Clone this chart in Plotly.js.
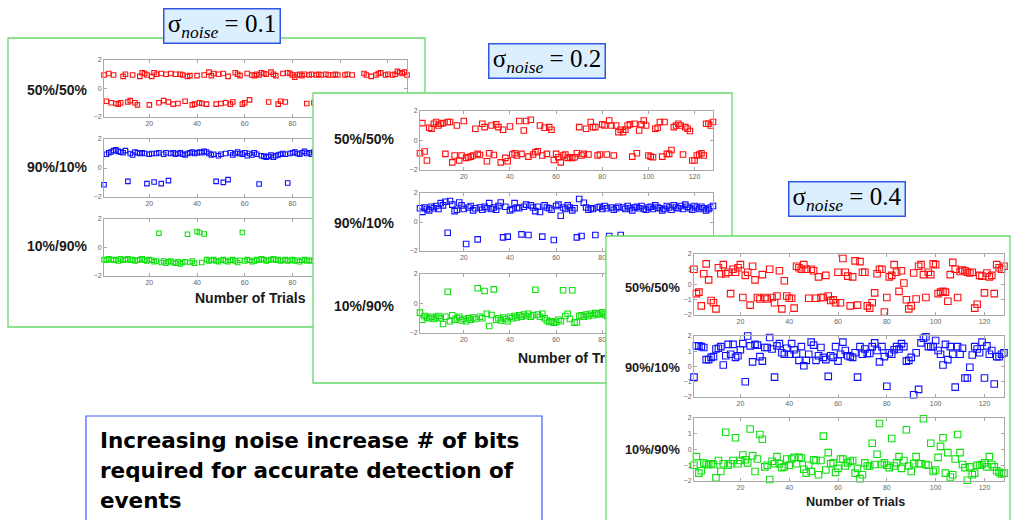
<!DOCTYPE html>
<html><head><meta charset="utf-8">
<script src="https://cdn.plot.ly/plotly-3.0.1.min.js"></script>
<style>
html,body{margin:0;padding:0;background:#fff;width:1011px;height:520px;overflow:hidden;}
.pnl{position:absolute;left:0;top:0;width:1011px;height:520px;}
</style></head><body>
<div id="p1" class="pnl" style="z-index:1"></div>
<div id="p2" class="pnl" style="z-index:2"></div>
<div id="p3" class="pnl" style="z-index:3"></div>
<script>
// ---------- data ----------
const trials = Array.from({length:128},(_,i)=>i+1);
const xTicks = [20,40,60,80,100,120];
const rowLabels = ['50%/50%','90%/10%','10%/90%'];
const sigmaValues = ['0.1','0.2','0.4'];
const xTitle = 'Number of Trials';
const noteLines = ['Increasing noise increase # of bits','required for accurate detection of','events'];

const p1_50_50 = [0.95,-0.9,1.05,-1.0,0.95,-1.05,-1.1,-1.0,0.85,1.0,
-0.95,-0.85,0.95,-1.0,-1.15,0.85,1.1,1.05,0.95,-1.15,
0.85,1.1,1.0,-1.0,1.05,-0.85,1.0,-0.95,1.05,-1.1,
1.0,-1.05,1.0,0.95,-0.9,0.85,0.9,-1.15,-1.1,0.9,
-1.0,-1.05,0.95,-1.1,1.15,0.9,1.05,-1.1,1.0,-1.05,
1.05,-1.0,0.85,-1.1,-0.95,1.1,1.0,0.9,-1.1,-1.0,
1.05,-0.8,0.95,0.9,1.0,0.95,1.1,1.05,1.0,-0.95,
1.15,1.0,0.9,-1.1,-0.9,1.05,-0.95,1.1,1.05,0.95,
0.8,0.95,1.0,0.9,1.0,-1.05,0.95,1.0,-1.0,0.95,
1.0,0.95,-1.05,1.0,0.95,-0.9,0.95,1.0,0.95,-1.1,
-0.95,0.95,1.0,-1.05,0.95,-1.0,-0.9,-1.1,-1.0,1.05,
0.95,-1.05,0.85,-0.95,0.95,1.05,1.1,-1.0,0.95,1.0,
-1.1,0.95,1.0,1.2,1.1,1.05,1.15,0.95];
const p1_90_10 = [-1.15,0.95,1.05,1.1,1.2,1.25,1.15,1.1,1.05,1.2,
-0.92,1.0,0.9,1.1,1.05,1.0,1.05,1.0,-1.08,0.95,
1.0,-0.97,1.0,1.05,-1.08,0.95,1.05,-0.87,1.0,1.05,
0.95,1.0,1.05,0.95,0.9,1.0,1.05,1.1,1.0,1.05,
1.1,1.05,1.15,1.1,1.0,0.9,0.95,-0.92,0.85,0.95,
-0.99,1.0,-0.8,1.05,0.9,1.0,1.1,1.0,0.95,1.05,
0.85,1.0,0.9,1.05,0.95,-1.1,0.85,0.8,0.75,0.8,
0.9,0.75,0.85,0.9,0.95,1.0,0.95,-1.03,1.0,1.05,
1.1,1.0,0.95,1.05,1.15,1.0,1.05,0.95,1.1,1.0,
0.95,1.05,1.0,0.9,1.0,1.05,0.95,1.0,1.1,0.95,
-1.0,1.0,1.05,0.9,1.0,1.1,0.95,1.0,1.05,0.9,
1.0,0.95,1.05,1.0,0.95,1.1,1.0,-0.95,1.0,1.05,
0.9,1.0,0.95,1.05,1.0,0.95,1.05,1.0];
const p1_10_90 = [-0.85,-0.9,-0.8,-0.85,-0.9,-0.85,-0.95,-0.8,-0.9,-0.85,
-0.8,-0.9,-0.85,-0.95,-0.9,-0.85,-0.8,-0.9,-0.95,-0.85,
-0.9,-1.0,-0.95,1.0,-1.05,-0.95,-1.1,-1.0,-0.95,-1.05,
-1.1,-1.0,-1.15,-1.05,-1.0,0.93,-1.05,-0.95,-1.1,1.12,
1.05,-1.05,0.95,-0.85,-0.95,-0.9,-0.85,-0.95,-1.0,-0.9,
-0.85,-0.95,-1.0,-0.9,-0.85,-0.95,-1.05,-0.9,1.05,-0.95,
-0.85,-0.9,-1.0,-0.95,-0.85,-0.9,-0.8,-0.85,-0.95,-0.9,
-0.85,-0.8,-0.9,-0.85,-0.95,-0.9,-0.85,-0.95,-0.9,-0.85,
-0.95,-0.9,-1.0,-0.9,-0.85,-0.95,-0.9,-0.95,-0.9,-0.85,
-0.9,-0.95,-0.9,-0.85,1.0,-0.9,-0.95,-0.85,-0.9,-0.95,
-0.9,-0.85,-0.9,0.95,-0.95,-0.9,-0.85,-0.9,-0.95,-0.9,
-0.85,-0.9,-0.95,-0.9,-0.85,-0.9,1.05,-0.95,-0.9,-0.85,
-0.9,-0.95,-0.9,-0.85,-0.9,-0.95,-0.9,-0.85];

const p2_50_50 = [-0.86,1.18,-0.75,-1.36,0.86,0.8,1.14,1.25,1.02,1.14,
1.18,-0.91,1.25,1.25,-1.48,-1.02,1.02,-1.36,-1.02,1.32,
-1.18,-1.14,-1.09,-1.02,0.8,-0.91,-0.98,1.14,0.91,-1.41,
-0.86,1.02,-0.98,1.09,0.91,-1.48,0.73,-1.18,-1.41,0.95,
-0.95,-0.86,-1.02,1.32,-0.91,0.68,1.32,-1.09,1.41,-0.95,
-0.8,-0.73,1.02,-1.02,0.86,-0.91,0.91,0.73,-1.32,-0.91,
-1.14,-1.48,-1.02,-0.95,-1.18,-1.14,-1.18,-1.14,-0.86,0.91,
-1.02,-0.91,0.8,-0.95,1.25,0.91,0.91,-1.02,-0.95,1.09,
1.02,-0.95,1.36,1.02,-1.02,1.02,0.57,0.73,0.57,0.73,
1.02,1.09,-1.09,1.14,-0.86,0.68,1.09,1.36,1.02,-1.02,
-1.09,-1.14,0.8,0.86,1.25,-1.09,1.25,-0.91,-0.91,-0.64,
0.91,1.02,1.14,1.02,-0.95,0.91,0.8,0.64,-1.36,-1.36,
-1.02,-0.95,-0.86,-1.02,1.14,1.14,1.02,1.25];
const p2_90_10 = [0.95,0.7,1.0,0.9,0.8,1.05,0.95,1.1,0.9,1.3,
1.15,1.4,-0.74,1.45,1.2,0.75,0.85,1.35,1.15,0.9,
-1.52,1.0,1.1,0.8,0.95,-1.2,1.0,0.85,1.05,0.95,
1.3,0.9,1.0,0.85,1.1,1.35,-1.06,1.05,-1.01,0.8,
0.9,1.3,1.0,0.95,-0.85,1.05,1.2,-0.9,1.15,1.0,
0.75,1.05,0.69,-1.01,1.15,1.0,0.95,0.85,-1.24,1.1,
1.2,0.43,1.0,0.9,1.15,1.0,0.8,0.95,-1.06,1.59,
-0.97,1.33,1.0,0.85,0.95,0.9,-0.9,1.0,1.05,0.9,
1.1,0.95,-0.97,1.0,0.85,0.95,1.05,-0.9,1.0,0.9,
1.1,0.95,0.8,1.0,1.05,0.95,1.1,0.9,0.85,1.0,
1.05,0.9,1.15,1.0,0.95,0.8,0.9,1.1,1.0,0.85,
1.15,1.0,0.95,1.1,0.9,1.2,1.05,0.95,0.85,1.1,
1.0,0.9,1.05,0.95,0.8,0.9,1.0,1.1];
const p2_10_90 = [-0.62,-1.1,-0.85,-0.95,-1.0,-0.9,-1.05,-0.95,-0.85,-1.0,
-1.39,-0.9,0.8,-1.2,-0.8,-1.1,-1.0,-0.9,-1.15,-1.05,
-1.2,-1.0,-1.1,-0.95,-1.05,1.03,-0.9,-1.0,0.85,-0.7,
-1.53,-0.78,0.96,-1.1,-1.0,-1.15,-0.95,-1.05,-1.2,-0.9,
-1.0,-0.85,-0.95,-0.8,-0.9,-0.75,-0.85,-0.7,-0.9,-0.8,
0.93,-0.75,-0.9,-0.7,-1.0,-1.15,-1.25,-1.2,-1.3,-1.25,
-1.1,-1.2,0.9,-0.85,-0.7,-1.05,0.9,-1.3,-1.27,-0.85,
-0.8,-0.9,-0.75,-0.85,-0.7,-0.8,-0.65,-0.75,-0.7,-0.6,
-0.75,-0.85,-0.9,-0.8,-0.95,-1.0,-0.85,-0.9,-1.05,-0.95,
-0.8,-0.9,-1.0,-0.85,1.0,-0.95,-0.9,-1.05,-0.8,-0.9,
-1.0,-0.95,-0.85,-0.9,-1.1,-0.95,-0.8,-0.9,-1.0,-0.85,
-0.9,0.9,-0.95,-1.05,-0.9,-0.85,-1.0,-0.95,-0.9,-0.85,
-0.95,-0.9,-1.0,-0.85,-0.9,-0.95,-1.0,-0.9];

const p3_50_50 = [1.0,-0.6,-0.5,-1.4,0.7,1.35,0.3,-1.05,-1.2,-1.6,
1.1,0.7,1.3,0.7,0.8,-0.6,1.0,0.8,1.1,1.3,
-0.85,0.6,0.8,-1.35,1.2,0.3,-0.85,-0.95,0.65,-0.85,
-0.95,1.0,-0.85,-1.2,-0.75,0.9,-1.6,0.25,-0.75,-0.9,
-0.9,-1.55,1.2,1.1,1.0,1.3,1.0,-0.9,1.0,0.9,
-0.9,0.5,-0.85,-0.85,0.6,-0.75,-1.05,-1.0,-1.2,0.8,
-1.2,1.7,0.8,0.55,-1.4,0.5,1.55,-1.35,1.5,0.8,
0.8,-1.4,-1.55,-1.2,-0.55,0.7,1.0,1.0,-1.8,-0.85,
0.5,0.6,1.3,0.8,-0.45,0.9,0.1,-1.0,-1.6,-1.4,
0.75,-0.95,1.2,1.3,0.65,-0.85,0.8,0.65,1.35,1.3,
-0.6,-0.5,-0.45,-0.5,-1.1,0.65,1.45,1.0,-0.85,0.85,
0.95,0.9,0.8,0.75,0.8,-1.55,-1.3,0.6,0.55,-0.55,
0.75,0.5,0.6,-0.6,1.3,1.1,1.0,1.2];
const p3_90_10 = [-0.7,1.35,1.35,1.3,1.25,0.45,0.45,0.6,0.65,1.15,
1.2,1.3,0.1,0.7,1.45,0.8,1.45,0.6,0.7,1.1,
1.5,-1.0,2.0,1.35,0.3,1.45,1.4,0.65,0.35,1.25,
1.25,1.9,1.15,-0.7,1.35,1.5,0.9,0.8,1.2,0.8,
1.5,1.1,0.8,0.4,1.3,0.05,0.4,0.8,1.6,1.4,
0.4,0.7,1.25,0.6,0.45,-0.65,0.7,0.6,1.3,0.35,
0.8,1.6,1.05,0.7,0.65,0.6,0.9,-0.7,1.3,0.8,
1.15,0.85,0.85,1.3,1.55,1.05,0.3,1.3,0.65,-1.3,
0.9,0.8,1.1,1.3,1.15,1.5,1.3,0.35,0.4,0.6,
-1.85,0.9,-1.5,1.55,1.85,1.95,1.3,1.3,1.3,1.7,
1.05,0.8,0.1,1.45,0.45,1.3,0.8,-1.35,1.3,0.8,
1.2,-0.75,-0.75,-0.05,0.75,1.3,1.15,0.9,1.6,-0.75,
1.35,0.8,1.05,-1.15,0.65,0.65,0.8,0.9];
const p3_10_90 = [-1.0,-0.45,-1.5,-1.35,-0.85,-0.95,-0.95,-0.9,-0.95,-1.8,
-0.7,-1.4,-0.9,1.1,-1.0,-0.9,-0.7,0.75,-0.9,-0.7,
-0.35,-0.65,-0.85,1.3,-0.4,-1.4,-0.6,0.95,0.65,-1.1,
-1.0,-1.9,-0.75,-0.9,-0.45,-0.9,-1.15,-1.1,-0.6,-1.0,
-0.6,-0.5,-0.9,-0.5,-0.55,-1.25,-1.5,-1.0,-1.4,-0.65,
-0.7,-1.6,-0.7,0.85,-1.3,-0.2,-0.9,-0.85,-1.45,-1.2,
-0.6,-0.6,-1.05,-0.85,-0.75,-0.7,-1.5,-1.2,-1.85,-1.6,
-0.85,-1.05,-1.05,0.4,-0.95,-0.3,1.65,-0.95,-0.85,-1.0,
-1.15,0.7,-1.05,-0.85,-0.45,-1.2,-0.7,1.25,-1.05,-1.4,
-0.9,-0.45,-0.9,-0.9,1.95,-0.95,-1.0,0.4,-1.4,-1.3,
-0.5,0.2,0.75,-1.5,-0.2,-1.75,-1.6,-0.6,0.95,-0.2,
-0.95,-1.15,-1.95,-1.1,-1.6,-1.5,-1.0,-1.0,-0.95,-0.85,
-1.1,-0.45,-0.95,-1.1,-1.35,-1.45,-1.55,-1.5];

// ---------- layout helpers ----------
const W = 1011, H = 520;
const fx = px => px / W, fy = py => 1 - py / H;
const RED = '#ff1010', BLUE = '#1010ff', GREEN = '#10e010';
const SANS = 'Liberation Sans, Arial, Helvetica, sans-serif';
const SERIF = 'Liberation Serif, Times New Roman, serif';

function makePanel(id, P){
  const data = [], shapes = [], ann = [];
  const layout = {width:W, height:H, margin:{l:0,r:0,t:0,b:0,pad:0},
    paper_bgcolor:'rgba(0,0,0,0)', plot_bgcolor:'rgba(0,0,0,0)',
    showlegend:false, font:{family:SANS}};
  shapes.push({type:'rect', xref:'paper', yref:'paper', layer:'below',
    x0:fx(P.box[0]), x1:fx(P.box[2]), y0:fy(P.box[3]), y1:fy(P.box[1]),
    fillcolor:'#ffffff', line:{color:'#6ad86a', width:1.3}});
  P.rows.forEach((r,i)=>{
    const s = i ? String(i+1) : '';
    data.push({type:'scatter', mode:'markers', x:trials.slice(0,r.y.length), y:r.y,
      xaxis:'x'+s, yaxis:'y'+s, cliponaxis:false, hoverinfo:'skip',
      marker:{symbol:'square-open', size:P.ms, color:r.color, line:{color:r.color, width:1.1}}});
    const ax = {showline:true, linecolor:'#a8a8a8', linewidth:1, mirror:'ticks',
      ticks:'inside', ticklen:3, tickwidth:1, tickcolor:'#a8a8a8',
      showgrid:false, zeroline:false, fixedrange:true,
      tickfont:{size:P.tf, color:'#666', family:SANS}};
    // labels covered by the next panel are left blank
    const hid = r.hideX || [];
    layout['xaxis'+s] = Object.assign({}, ax, {domain:[fx(P.x[0]), fx(P.x[1])],
      range:[1,128], tickvals:xTicks, ticktext:xTicks.map(v=>hid.includes(v)?'':String(v)),
      anchor:'y'+s});
    layout['yaxis'+s] = Object.assign({}, ax, {domain:[fy(r.py[1]), fy(r.py[0])],
      range:[-2,2], tickvals:P.yTicks, anchor:'x'+s});
    ann.push({xref:'paper', yref:'paper', x:fx(P.labelX), y:fy(r.ly), xanchor:'left', yanchor:'middle',
      showarrow:false, text:'<b>'+rowLabels[i]+'</b>', font:{size:P.lf, color:'#1a1a1a', family:SANS}});
  });
  ann.push({xref:'paper', yref:'paper', x:fx(P.title[0]), y:fy(P.title[1]), xanchor:'center', yanchor:'middle',
    showarrow:false, text:'<b>'+xTitle+'</b>', font:{size:P.tsz, color:'#1a1a1a', family:SANS}});
  ann.push({xref:'paper', yref:'paper', x:fx(P.sig[0]), y:fy(P.sig[1]), xanchor:'center', yanchor:'middle',
    showarrow:false, text:'σ<sub><i>noise</i></sub> = '+P.sigma,
    font:{size:25, color:'#000', family:SERIF}, bgcolor:'#dcefff', bordercolor:'#3058e8',
    borderwidth:1.5, borderpad:1, width:113, height:31});
  if (P.note){
    shapes.push({type:'rect', xref:'paper', yref:'paper', x0:fx(86), x1:fx(542), y0:fy(540), y1:fy(416),
      fillcolor:'rgba(0,0,0,0)', line:{color:'#3a5ef0', width:1.2}});
    const ys = [440, 470, 500];
    noteLines.forEach((t,k)=>ann.push({xref:'paper', yref:'paper', x:fx(98), y:fy(ys[k]),
      xanchor:'left', yanchor:'middle', showarrow:false, text:'<b>'+t+'</b>',
      font:{size:21.5, color:'#000', family:'DejaVu Sans, sans-serif'}}));
  }
  layout.shapes = shapes; layout.annotations = ann;
  Plotly.newPlot(id, data, layout, {staticPlot:true, displayModeBar:false});
}

makePanel('p1', {box:[8,38,425,327], x:[104,407], ms:4.5, tf:7, lf:14, tsz:14, labelX:25,
  yTicks:[-2,0,2], title:[250,298], sig:[221.5,25.5], sigma:sigmaValues[0], note:true,
  rows:[{y:p1_50_50, color:RED, py:[60,117], ly:90, hideX:[100,120]},
        {y:p1_90_10, color:BLUE, py:[139,197], ly:167, hideX:[100,120]},
        {y:p1_10_90, color:GREEN, py:[219,276], ly:246, hideX:[100,120]}]});
makePanel('p2', {box:[313,93,732,383], x:[420,713], ms:5.5, tf:7, lf:14, tsz:14, labelX:332,
  yTicks:[-2,0,2], title:[573,358], sig:[547,61], sigma:sigmaValues[1],
  rows:[{y:p2_50_50, color:RED, py:[111,170], ly:139},
        {y:p2_90_10, color:BLUE, py:[193,251], ly:223, hideX:[100,120]},
        {y:p2_10_90, color:GREEN, py:[274,333], ly:306, hideX:[100,120]}]});
makePanel('p3', {box:[606,236,1010,540], x:[694,1004], ms:6.5, tf:7, lf:12.8, tsz:12.6, labelX:623,
  yTicks:[-2,-1,0,1,2], title:[855,502], sig:[847,199.5], sigma:sigmaValues[2],
  rows:[{y:p3_50_50, color:RED, py:[254,315], ly:287},
        {y:p3_90_10, color:BLUE, py:[336,397], ly:367},
        {y:p3_10_90, color:GREEN, py:[418,481], ly:449}]});
</script>
</body></html>
